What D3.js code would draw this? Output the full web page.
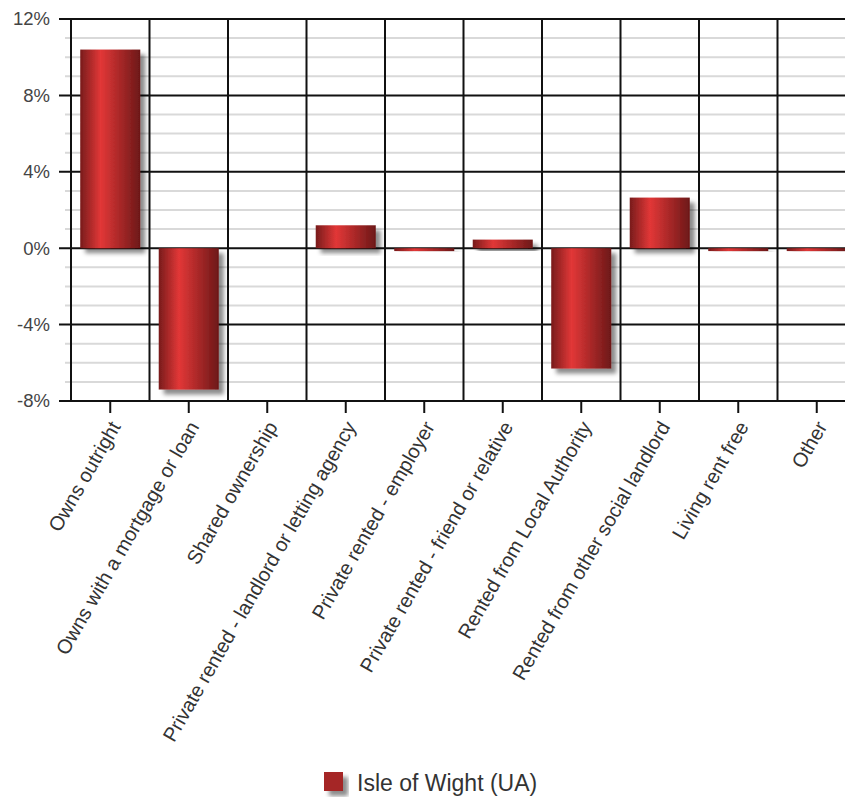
<!DOCTYPE html>
<html>
<head>
<meta charset="utf-8">
<script src="https://cdn.jsdelivr.net/npm/d3@7"></script>
<style>
  html, body { margin: 0; padding: 0; background: #fff; overflow: hidden; }
  svg { display: block; font-family: "Liberation Sans", Arial, sans-serif; }
</style>
</head>
<body>
<svg id="chart" width="845" height="798"></svg>
<script>
// Change in tenure share, percentage points
const categories = [
  "Owns outright",
  "Owns with a mortgage or loan",
  "Shared ownership",
  "Private rented - landlord or letting agency",
  "Private rented - employer",
  "Private rented - friend or relative",
  "Rented from Local Authority",
  "Rented from other social landlord",
  "Living rent free",
  "Other"
];
const values = [10.4, -7.4, 0, 1.2, -0.15, 0.45, -6.3, 2.65, -0.15, -0.15];
const majorTicks = [-8, -4, 0, 4, 8, 12];
const minorTicks = d3.range(-8, 13, 1);
const seriesName = "Isle of Wight (UA)";

const svg = d3.select("#chart");
const plotLeft = 71, plotRight = 856, plotTop = 19, plotBottom = 401;

const x = d3.scaleBand().domain(categories).range([plotLeft, plotRight])
  .paddingInner(0.235).paddingOuter(0.1175);
const y = d3.scaleLinear().domain([-8, 12]).range([plotBottom, plotTop]);
const step = x.step();

const defs = svg.append("defs");
const grad = defs.append("linearGradient").attr("id", "barGrad")
  .attr("x1", "0%").attr("x2", "100%").attr("y1", "0%").attr("y2", "0%");
grad.append("stop").attr("offset", "0%").attr("stop-color", "#781c1c");
grad.append("stop").attr("offset", "34%").attr("stop-color", "#e23737");
grad.append("stop").attr("offset", "100%").attr("stop-color", "#6c1818");

const shadow = defs.append("filter").attr("id", "shadow")
  .attr("x", "-20%").attr("y", "-20%").attr("width", "150%").attr("height", "150%");
shadow.append("feDropShadow").attr("dx", 5).attr("dy", 5)
  .attr("stdDeviation", 2.2).attr("flood-color", "#000").attr("flood-opacity", 0.45);

// minor grid lines with short ticks
svg.append("g").selectAll("line").data(minorTicks.filter(t => t % 4 !== 0)).join("line")
  .attr("x1", plotLeft - 6).attr("x2", plotRight)
  .attr("y1", d => y(d)).attr("y2", d => y(d))
  .attr("stroke", "#d9d9d9").attr("stroke-width", 2);

// vertical category separators
svg.append("g").selectAll("line").data(d3.range(0, categories.length + 1)).join("line")
  .attr("x1", i => plotLeft + i * step).attr("x2", i => plotLeft + i * step)
  .attr("y1", plotTop).attr("y2", plotBottom)
  .attr("stroke", "#111").attr("stroke-width", 2);

// major grid lines with long ticks
svg.append("g").selectAll("line").data(majorTicks).join("line")
  .attr("x1", plotLeft - 12).attr("x2", plotRight)
  .attr("y1", d => y(d)).attr("y2", d => y(d))
  .attr("stroke", "#111").attr("stroke-width", 2);

// y labels
svg.append("g").selectAll("text").data(majorTicks).join("text")
  .attr("x", 50).attr("y", d => y(d)).attr("dy", "0.35em")
  .attr("text-anchor", "end").attr("font-size", 18.5).attr("fill", "#444")
  .text(d => d + "%");

// bars
svg.append("g").selectAll("rect").data(values.map((v, i) => ({ c: categories[i], v })).filter(d => d.v !== 0))
  .join("rect")
  .attr("x", d => x(d.c))
  .attr("width", x.bandwidth())
  .attr("y", d => y(Math.max(0, d.v)))
  .attr("height", d => Math.abs(y(d.v) - y(0)))
  .attr("fill", "url(#barGrad)")
  .attr("filter", "url(#shadow)");

// x ticks
svg.append("g").selectAll("line").data(categories).join("line")
  .attr("x1", d => x(d) + x.bandwidth() / 2).attr("x2", d => x(d) + x.bandwidth() / 2)
  .attr("y1", plotBottom).attr("y2", plotBottom + 12)
  .attr("stroke", "#111").attr("stroke-width", 2);

// x labels, rotated
svg.append("g").selectAll("text").data(categories).join("text")
  .attr("transform", d => `translate(${x(d) + x.bandwidth() / 2 + 5},${plotBottom + 22}) rotate(-60)`)
  .attr("text-anchor", "end").attr("font-size", 20).attr("fill", "#333")
  .attr("dy", "0.35em")
  .text(d => d);

// legend
const lg = svg.append("g");
lg.append("rect").attr("x", 324).attr("y", 772).attr("width", 19).attr("height", 19)
  .attr("fill", "#a52525").attr("filter", "url(#shadow)");
lg.append("text").attr("x", 357).attr("y", 791).attr("font-size", 23).attr("fill", "#333")
  .text(seriesName);
</script>
</body>
</html>
